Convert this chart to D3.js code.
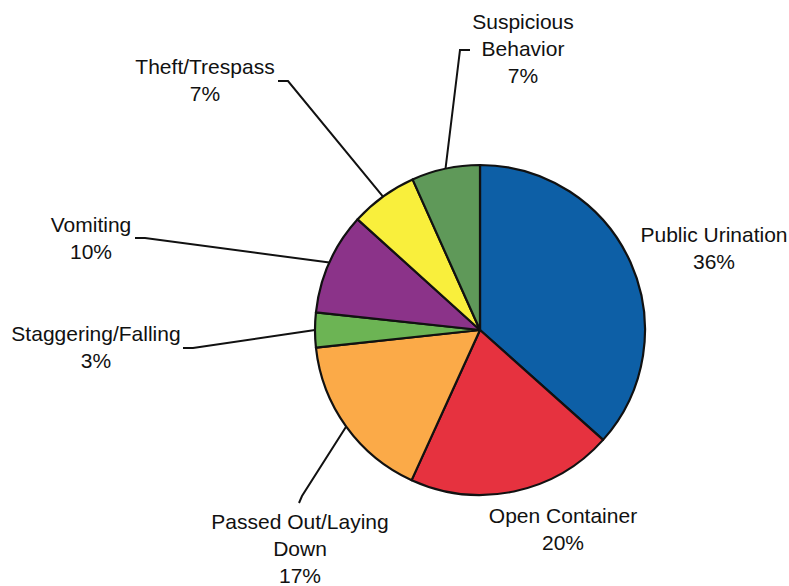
<!DOCTYPE html>
<html lang="en">
  <head>
    <meta charset="utf-8">
    <title>Pie</title>
    <script src="https://d3js.org/d3.v7.min.js"></script>
    <style>
      body { margin: 0; background: #fff; }
      .mychart text {
        font: 21px "Liberation Sans", Arial, sans-serif;
        fill: #111;
        text-anchor: middle;
      }
    </style>
  </head>
  <body>
    <div class="mychart" id="chart"></div>

    <script type="text/javascript">
      "use strict"
      // categorias, clockwise from the top
      var categorias = ["Public Urination", "Open Container", "Passed Out/Laying Down",
                        "Staggering/Falling", "Vomiting", "Theft/Trespass", "Suspicious Behavior"];
      // slice sizes (percent)
      var valores = [36.6, 20.2, 16.5, 3.4, 10.0, 6.6, 6.7];
      // percent labels as printed
      var rotulos = ["36%", "20%", "17%", "3%", "10%", "7%", "7%"];
      var cores = ["#0d5fa6", "#e6323f", "#fbaa48", "#6cb454", "#8b3389", "#f9ef3c", "#5f9959"];

      var larguraSVG = 789, alturaSVG = 586;
      var cx = 480, cy = 330, raio = 165;

      // label layout: text lines, anchor x, first baseline, leader path (null = no leader)
      var layout = [
        {lines: ["Public Urination"], x: 714, y: 242, leader: null},
        {lines: ["Open Container"], x: 563, y: 523, leader: null},
        {lines: ["Passed Out/Laying", "Down"], x: 300, y: 529, leader: [[302, 496], [299, 503]]},
        {lines: ["Staggering/Falling"], x: 96, y: 341, leader: [[193, 348], [183, 348]]},
        {lines: ["Vomiting"], x: 91, y: 232, leader: [[145, 238], [135, 238]]},
        {lines: ["Theft/Trespass"], x: 205, y: 74, leader: [[288, 81], [278, 81]]},
        {lines: ["Suspicious", "Behavior"], x: 523, y: 29, leader: [[460, 50], [470, 50]]}
      ];
      var linha = 27;

      var svg = d3.select('#chart')
        .append('svg')
          .attr('width', larguraSVG)
          .attr('height', alturaSVG);

      var pie = d3.pie().sort(null).value(d => d);
      var arcos = pie(valores);
      var arco = d3.arc().innerRadius(0).outerRadius(raio);

      var g = svg.append('g')
        .attr('transform', 'translate(' + cx + ',' + cy + ')');

      g.selectAll('path.fatia')
        .data(arcos)
        .enter().append('path')
          .attr('class', 'fatia')
          .attr('d', arco)
          .attr('fill', (d, i) => cores[i])
          .attr('stroke', '#111')
          .attr('stroke-width', 2.2)
          .attr('stroke-linejoin', 'round');

      // leader lines start on the rim at the slice's mid angle
      var linhaGuia = d3.line();
      arcos.forEach(function(d, i) {
        var L = layout[i];
        if (!L.leader) return;
        var a = (d.startAngle + d.endAngle) / 2;
        var p0 = [cx + raio * Math.sin(a), cy - raio * Math.cos(a)];
        svg.append('path')
          .attr('d', linhaGuia([p0].concat(L.leader)))
          .attr('fill', 'none')
          .attr('stroke', '#111')
          .attr('stroke-width', 2);
      });

      // labels
      layout.forEach(function(L, i) {
        var t = svg.append('text');
        L.lines.concat([rotulos[i]]).forEach(function(s, k) {
          t.append('tspan')
            .attr('x', L.x)
            .attr('y', L.y + k * linha)
            .text(s);
        });
      });
    </script>
  </body>
</html>
